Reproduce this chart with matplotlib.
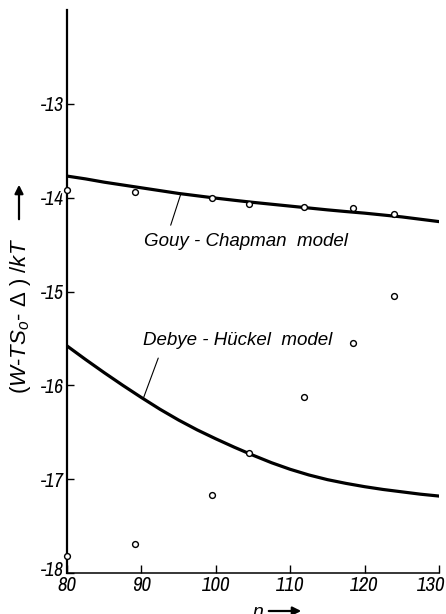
import matplotlib
matplotlib.use("Agg")
import matplotlib.pyplot as plt
import matplotlib.transforms as mtransforms
from matplotlib import font_manager
from matplotlib.font_manager import FontProperties

# Pick a narrow italic font if one is installed
ttf = font_manager.fontManager.ttflist
narrow_file = None
for key in ['LiberationSansNarrow-Italic', 'LiberationSansNarrow-BoldItalic']:
    for f in ttf:
        if key in f.fname.replace(' ', ''):
            narrow_file = f.fname
            break
    if narrow_file:
        break
if narrow_file is None:
    for f in ttf:
        if ('Narrow' in f.name or 'Condensed' in f.name) and f.style in ('italic', 'oblique'):
            narrow_file = f.fname
            break

REG = 'Liberation Sans'
if narrow_file:
    xt_fp = FontProperties(fname=narrow_file, size=15)
    yt_fp = FontProperties(fname=narrow_file, size=14)
    last_shift = -8
else:
    xt_fp = FontProperties(family=REG, style='italic', size=12)
    yt_fp = FontProperties(family=REG, style='italic', size=11)
    last_shift = -8

plt.rcParams['mathtext.fontset'] = 'custom'
plt.rcParams['mathtext.rm'] = REG
plt.rcParams['mathtext.it'] = REG + ':italic'

# Data
n_points = [80, 89.1, 99.5, 104.5, 111.9, 118.4, 123.9]
gc_points = [-13.92, -13.935, -14.005, -14.066, -14.095, -14.115, -14.17]
dh_points = [-17.82, -17.69, -17.17, -16.72, -16.12, -15.545, -15.05]

n_curve = [80, 82.5, 85, 87.5, 90, 92.5, 95, 97.5, 100, 102.5, 105, 107.5, 110,
           112.5, 115, 117.5, 120, 122.5, 125, 127.5, 130]
gc_curve = [-13.77, -13.80, -13.835, -13.865, -13.895, -13.925, -13.955, -13.98, -14.005,
            -14.028, -14.05, -14.07, -14.09, -14.11, -14.13, -14.148, -14.165, -14.185,
            -14.205, -14.23, -14.255]
dh_curve = [-15.58, -15.725, -15.865, -16.0, -16.13, -16.255, -16.37, -16.475, -16.57,
            -16.66, -16.745, -16.825, -16.895, -16.955, -17.005, -17.045, -17.08, -17.11,
            -17.135, -17.16, -17.18]

x_ticks = [80, 90, 100, 110, 120, 130]
y_ticks = [-18, -17, -16, -15, -14, -13]

W, H = 446, 614
fig = plt.figure(figsize=(W / 100, H / 100), dpi=100)
ax = fig.add_axes([67 / W, 1 - 573 / H, (439 - 67) / W, (573 - 10) / H])

ax.plot(n_curve, gc_curve, color='black', lw=2.3, solid_capstyle='round', solid_joinstyle='round')
ax.plot(n_curve, dh_curve, color='black', lw=2.3, solid_capstyle='round', solid_joinstyle='round')
ax.plot(n_points, gc_points, 'o', ms=4.2, mfc='white', mec='black', mew=1.0, clip_on=False, zorder=5)
ax.plot(n_points, dh_points, 'o', ms=4.2, mfc='white', mec='black', mew=1.0, clip_on=False, zorder=5)

ax.set_xlim(80, 130)
ax.set_ylim(-18, -12)
ax.set_xticks(x_ticks)
ax.set_yticks(y_ticks)
ax.set_xticklabels([str(v) for v in x_ticks], fontproperties=xt_fp)
ax.set_yticklabels([str(v) for v in y_ticks], fontproperties=yt_fp)
ax.tick_params(axis='x', direction='in', length=6, width=1.0, pad=2)
ax.tick_params(axis='y', direction='in', length=5, width=1.0, pad=2)
lbl = ax.get_xticklabels()[-1]
lbl.set_transform(lbl.get_transform() + mtransforms.ScaledTranslation(last_shift / 100, 0, fig.dpi_scale_trans))
lbl0 = ax.get_yticklabels()[0]
lbl0.set_transform(lbl0.get_transform() + mtransforms.ScaledTranslation(0, 5 / 100, fig.dpi_scale_trans))
for s in ['top', 'right']:
    ax.spines[s].set_visible(False)
ax.spines['left'].set_linewidth(1.6)
ax.spines['bottom'].set_linewidth(1.1)

# annotations
ax.annotate('Gouy - Chapman  model', xy=(95.3, -13.96), xytext=(104.0, -14.47),
            fontsize=13.5, family=REG, style='italic', ha='center', va='center',
            arrowprops=dict(arrowstyle='-', lw=0.8, color='black', shrinkA=4, shrinkB=0,
                            relpos=(0.12, 1.0)))
ax.annotate('Debye - Hückel  model', xy=(90.3, -16.13), xytext=(102.9, -15.52),
            fontsize=13.5, family=REG, style='italic', ha='center', va='center',
            arrowprops=dict(arrowstyle='-', lw=0.8, color='black', shrinkA=5, shrinkB=0,
                            relpos=(0.1, 0.0)))

def fp(x, y):
    return (x / W, 1 - y / H)

# y label with arrow
fig.text(*fp(21, 316), '$(W\u2010TS_o\u2010\\ \\Delta\\ )\\ /kT$', rotation=90,
         ha='center', va='center', fontsize=16, style='italic')
fig.add_artist(matplotlib.patches.FancyArrowPatch(fp(19, 222), fp(19, 182),
               transform=fig.transFigure, arrowstyle='-|>,head_length=5,head_width=2.5',
               lw=1.6, color='black'))

# x label with arrow
fig.text(*fp(258, 604), 'n', ha='center', va='top', fontsize=14, style='italic', family=REG)
fig.add_artist(matplotlib.patches.FancyArrowPatch(fp(266, 611), fp(304, 611),
               transform=fig.transFigure, arrowstyle='-|>,head_length=5,head_width=2.5',
               lw=1.6, color='black'))

fig.savefig('out.png', dpi=100)
